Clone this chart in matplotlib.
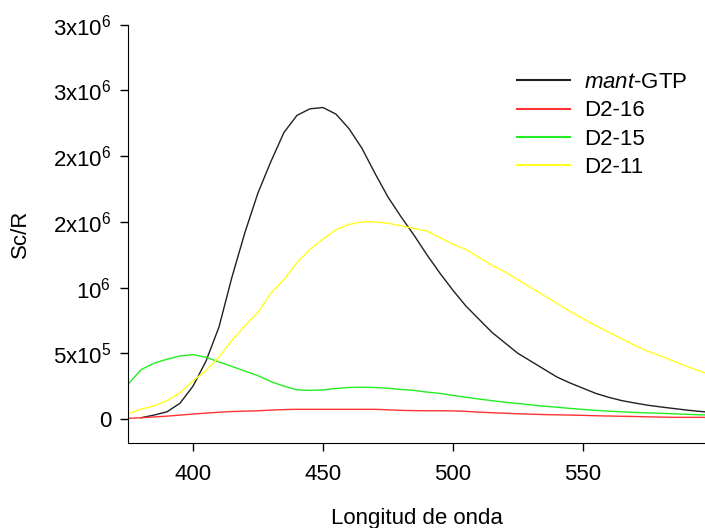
import matplotlib
matplotlib.use('Agg')
import matplotlib.pyplot as plt
import numpy as np

plt.rcParams['font.family'] = ['Liberation Sans', 'DejaVu Sans']
plt.rcParams['mathtext.fontset'] = 'custom'
plt.rcParams['mathtext.rm'] = 'Liberation Sans'
plt.rcParams['mathtext.it'] = 'Liberation Sans:italic'
plt.rcParams['mathtext.default'] = 'regular'

# longitud de onda (nm)
longitud = [375, 380, 385, 390, 395, 400, 405, 410, 415, 420, 425, 430, 435, 440,
            445, 450, 455, 460, 465, 470, 475, 480, 485, 490, 495, 500, 505, 510,
            515, 520, 525, 530, 535, 540, 545, 550, 555, 560, 565, 570, 575, 580,
            585, 590, 595, 600]

# valores en unidades de 10^6
mant_gtp = [np.nan, 0.01, 0.03, 0.055, 0.12, 0.25, 0.44, 0.70, 1.08, 1.42, 1.72, 1.96,
            2.18, 2.31, 2.36, 2.37, 2.32, 2.21, 2.06, 1.87, 1.69, 1.54, 1.40, 1.25,
            1.11, 0.98, 0.86, 0.76, 0.66, 0.58, 0.50, 0.44, 0.38, 0.32, 0.275, 0.235,
            0.195, 0.165, 0.14, 0.122, 0.105, 0.092, 0.08, 0.068, 0.058, 0.05]
d2_16 = [0.005, 0.01, 0.016, 0.022, 0.03, 0.038, 0.045, 0.052, 0.057, 0.06, 0.063,
         0.068, 0.072, 0.074, 0.074, 0.074, 0.074, 0.074, 0.074, 0.074, 0.07, 0.066,
         0.064, 0.063, 0.063, 0.062, 0.058, 0.053, 0.048, 0.044, 0.04, 0.037, 0.034,
         0.032, 0.03, 0.028, 0.025, 0.023, 0.021, 0.019, 0.017, 0.015, 0.013, 0.013,
         0.013, 0.012]
d2_15 = [0.265, 0.375, 0.425, 0.455, 0.48, 0.49, 0.47, 0.435, 0.40, 0.365, 0.33,
         0.285, 0.25, 0.222, 0.218, 0.222, 0.233, 0.24, 0.242, 0.24, 0.234, 0.225,
         0.218, 0.205, 0.195, 0.18, 0.166, 0.152, 0.14, 0.128, 0.118, 0.108, 0.098,
         0.09, 0.081, 0.073, 0.066, 0.06, 0.055, 0.05, 0.047, 0.044, 0.04, 0.036,
         0.032, 0.03]
d2_11 = [0.04, 0.075, 0.10, 0.14, 0.20, 0.29, 0.37, 0.47, 0.60, 0.71, 0.81, 0.96,
         1.06, 1.19, 1.29, 1.37, 1.44, 1.48, 1.50, 1.50, 1.49, 1.47, 1.45, 1.43,
         1.38, 1.33, 1.29, 1.23, 1.17, 1.12, 1.06, 1.00, 0.94, 0.88, 0.82, 0.765,
         0.71, 0.66, 0.61, 0.56, 0.515, 0.48, 0.44, 0.40, 0.365, 0.33]

yticks = [0, 0.5e6, 1e6, 1.5e6, 2e6, 2.5e6, 3e6]
yticklabels = ['0', '5x10$^5$', '10$^6$', '2x10$^6$', '2x10$^6$', '3x10$^6$', '3x10$^6$']
xticks = [400, 450, 500, 550]

fig = plt.figure(figsize=(7.05, 5.28), dpi=100)
ax = fig.add_axes([128/705, 1 - 442.7/528, 1 - 128/705, (442.7 - 24.7)/528])

x = np.array(longitud)
ax.plot(x, np.array(mant_gtp) * 1e6, color='#202020', lw=1.0, label=r'$\mathit{mant}$-GTP')
ax.plot(x, np.array(d2_16) * 1e6, color='#ff3333', lw=1.0, label='D2-16')
ax.plot(x, np.array(d2_15) * 1e6, color='#22ee22', lw=1.0, label='D2-15')
ax.plot(x, np.array(d2_11) * 1e6, color='#ffff22', lw=1.0, label='D2-11')

ax.set_xlim(375, 597)
ax.set_ylim(-0.18e6, 3.0e6)
ax.set_xticks(xticks)
ax.set_yticks(yticks)
ax.set_yticklabels(yticklabels)
ax.tick_params(axis='both', labelsize=16, direction='out', length=6, width=1)
ax.tick_params(axis='x', pad=9)
ax.tick_params(axis='y', pad=6)

ax.spines['top'].set_visible(False)
ax.spines['right'].set_visible(False)

ax.set_xlabel('Longitud de onda', fontsize=16, labelpad=17)
ax.set_ylabel('Sc/R', fontsize=16, labelpad=16)

leg = ax.legend(loc='upper left', bbox_to_anchor=(497/705, 1 - 52/528),
                bbox_transform=fig.transFigure, frameon=False, fontsize=16,
                handlelength=2.4, handletextpad=0.6, labelspacing=0.33)
for line in leg.get_lines():
    line.set_linewidth(1.5)

fig.savefig('out.png', dpi=100)
